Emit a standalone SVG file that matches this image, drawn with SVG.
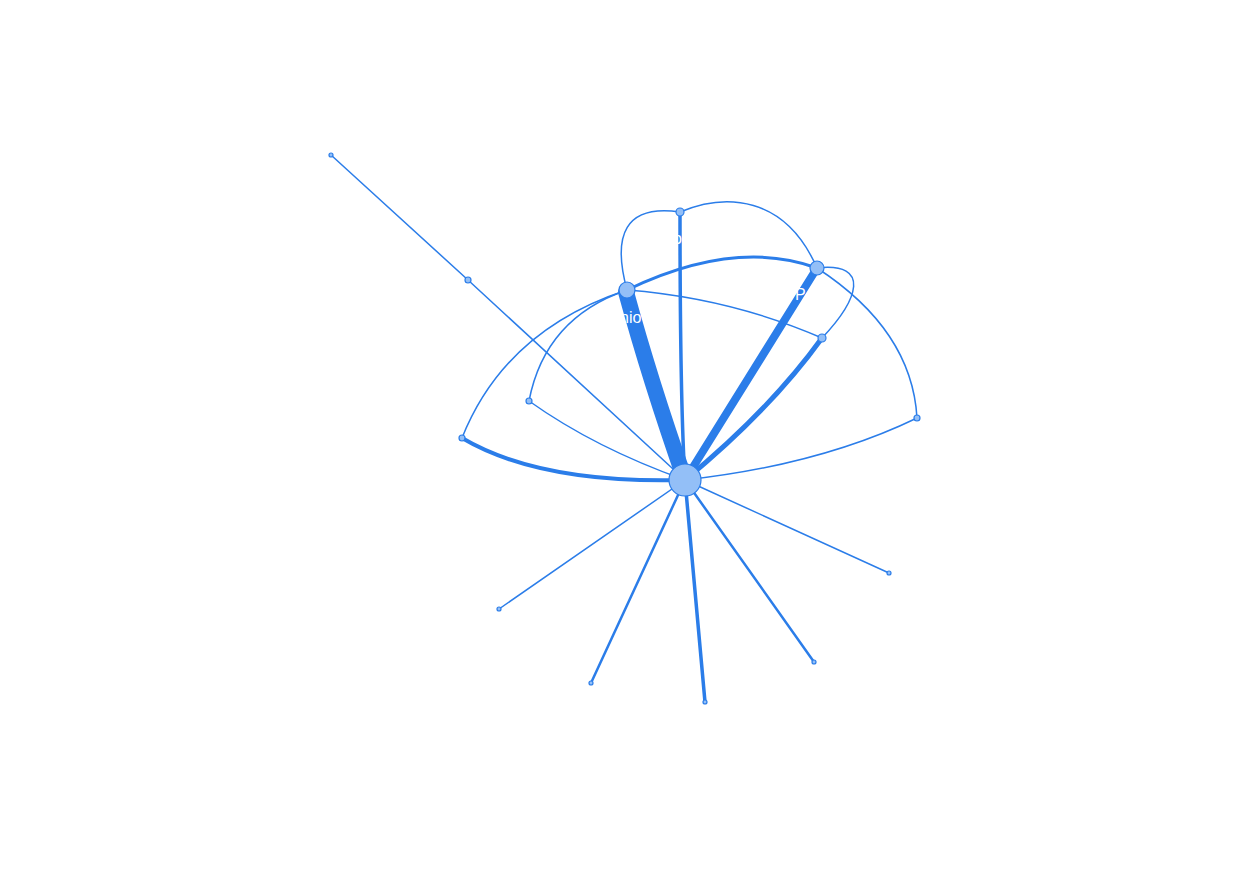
<svg xmlns="http://www.w3.org/2000/svg" width="1250" height="875" viewBox="0 0 1250 875">
<style>
.e{fill:none;stroke:#2b7de9;stroke-linecap:round}
.n{fill:#93bff7;stroke:#2b7de9;stroke-width:1.2}
.l{fill:#ffffff;font-family:"Liberation Sans",Arial,sans-serif;font-size:16px}
</style>
<rect width="1250" height="875" fill="#ffffff"/>
<g id="edges">
<path class="e" stroke-width="1.5" d="M331,155 L468,280"/>
<path class="e" stroke-width="1.5" d="M468,280 L685,480"/>
<path class="e" stroke-width="16" stroke-linecap="butt" d="M626,292 Q650,380 685,480"/>
<path class="e" stroke-width="3.5" d="M680,212 Q680,400 685,480"/>
<path class="e" stroke-width="8" stroke-linecap="butt" d="M817,268 L685,480"/>
<path class="e" stroke-width="5" d="M822,338 Q770,410 685,480"/>
<path class="e" stroke-width="1.5" d="M917,418 Q820,465 685,480"/>
<path class="e" stroke-width="1.5" d="M529,401 Q595,448 685,480"/>
<path class="e" stroke-width="4" d="M462,438 Q540,484 685,480"/>
<path class="e" stroke-width="1.5" d="M685,480 L499,609"/>
<path class="e" stroke-width="2.5" d="M685,480 L591,683"/>
<path class="e" stroke-width="3.5" d="M685,480 L705,702"/>
<path class="e" stroke-width="2.5" d="M685,480 L814,662"/>
<path class="e" stroke-width="1.5" d="M685,480 L889,573"/>
<path class="e" stroke-width="3" d="M627,290 Q735,238 817,268"/>
<path class="e" stroke-width="1.5" d="M627,290 C612,235 625,204 680,212"/>
<path class="e" stroke-width="1.5" d="M680,212 C725,193 785,195 817,268"/>
<path class="e" stroke-width="1.5" d="M627,290 Q730,298 822,338"/>
<path class="e" stroke-width="1.5" d="M627,290 Q505,330 462,438"/>
<path class="e" stroke-width="1.5" d="M627,290 Q545,318 529,401"/>
<path class="e" stroke-width="1.5" d="M817,268 C872,262 858,300 822,338"/>
<path class="e" stroke-width="1.5" d="M817,268 Q912,330 917,418"/>
</g>
<g id="node-hub"><circle class="n" cx="685" cy="480" r="16"/></g>
<g id="node-a"><circle class="n" cx="627" cy="290" r="8"/><text class="l" x="620" y="323">nio</text></g>
<g id="node-b"><circle class="n" cx="680" cy="212" r="4"/><text class="l" x="673" y="244">o</text></g>
<g id="node-c"><circle class="n" cx="817" cy="268" r="7"/><text class="l" x="795" y="300">P</text></g>
<g id="node-d"><circle class="n" cx="822" cy="338" r="4"/></g>
<g id="node-e"><circle class="n" cx="917" cy="418" r="3"/></g>
<g id="node-f"><circle class="n" cx="529" cy="401" r="3"/></g>
<g id="node-g"><circle class="n" cx="462" cy="438" r="3"/></g>
<g id="node-i"><circle class="n" cx="468" cy="280" r="3"/></g>
<g id="node-j"><circle class="n" cx="331" cy="155" r="2"/></g>
<g id="node-k"><circle class="n" cx="499" cy="609" r="2"/></g>
<g id="node-l"><circle class="n" cx="591" cy="683" r="2"/></g>
<g id="node-m"><circle class="n" cx="705" cy="702" r="2"/></g>
<g id="node-n"><circle class="n" cx="814" cy="662" r="2"/></g>
<g id="node-o"><circle class="n" cx="889" cy="573" r="2"/></g>
</svg>
